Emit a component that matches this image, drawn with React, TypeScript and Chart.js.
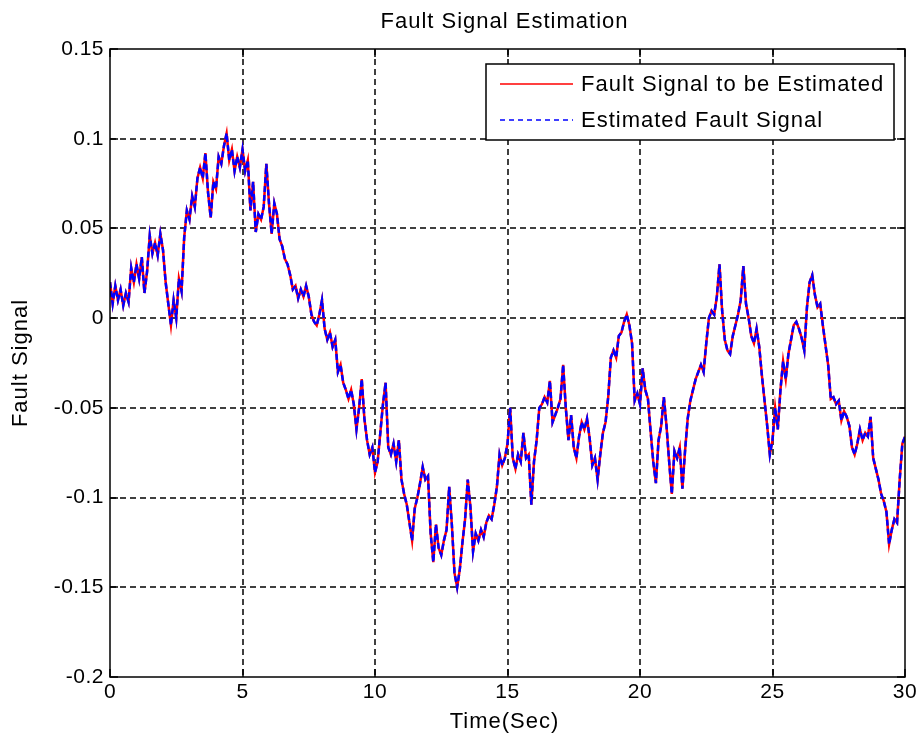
import { useEffect, useRef } from "react";
import { Chart, registerables } from "chart.js";

Chart.register(...registerables);

const chartTitle = "Fault Signal Estimation";
const xAxisTitle = "Time(Sec)";
const yAxisTitle = "Fault Signal";
const legendLabels = ["Fault Signal to be Estimated", "Estimated Fault Signal"];

const sampleStep = 0.1; // seconds between samples
const xTickValues = [0, 5, 10, 15, 20, 25, 30];
const yTickValues = [-0.2, -0.15, -0.1, -0.05, 0, 0.05, 0.1, 0.15];
const yTickLabels = ["-0.2", "-0.15", "-0.1", "-0.05", "0", "0.05", "0.1", "0.15"];

// Fault signal, one value every 0.1 s from 0 to 30 s
const faultSignal = [
  0.020, 0.008, 0.018, 0.010, 0.016, 0.007, 0.014, 0.009, 0.028, 0.020,
  0.030, 0.022, 0.034, 0.014, 0.026, 0.046, 0.036, 0.042, 0.035, 0.047,
  0.038, 0.020, 0.008, -0.004, 0.010, 0.000, 0.022, 0.015, 0.045, 0.060,
  0.055, 0.068, 0.062, 0.078, 0.084, 0.078, 0.092, 0.070, 0.056, 0.076,
  0.072, 0.090, 0.086, 0.096, 0.103, 0.088, 0.094, 0.082, 0.090, 0.084,
  0.094, 0.082, 0.088, 0.060, 0.076, 0.048, 0.058, 0.055, 0.062, 0.086,
  0.064, 0.047, 0.064, 0.058, 0.044, 0.040, 0.033, 0.030, 0.024, 0.016,
  0.018, 0.011, 0.016, 0.012, 0.018, 0.012, 0.002, -0.002, -0.004, 0.002,
  0.010, -0.006, -0.012, -0.008, -0.016, -0.012, -0.030, -0.026, -0.036, -0.040,
  -0.045, -0.040, -0.048, -0.062, -0.050, -0.034, -0.056, -0.068, -0.076, -0.072,
  -0.086, -0.080, -0.064, -0.048, -0.036, -0.072, -0.076, -0.070, -0.080, -0.068,
  -0.090, -0.098, -0.104, -0.114, -0.124, -0.106, -0.100, -0.092, -0.083, -0.090,
  -0.088, -0.120, -0.136, -0.115, -0.128, -0.132, -0.124, -0.118, -0.094, -0.115,
  -0.142, -0.150, -0.140, -0.125, -0.112, -0.090, -0.105, -0.130, -0.120, -0.124,
  -0.118, -0.122, -0.114, -0.110, -0.112, -0.104, -0.094, -0.076, -0.082, -0.078,
  -0.070, -0.050, -0.078, -0.084, -0.076, -0.080, -0.064, -0.078, -0.076, -0.104,
  -0.080, -0.068, -0.050, -0.048, -0.044, -0.047, -0.035, -0.058, -0.054, -0.050,
  -0.045, -0.026, -0.050, -0.068, -0.054, -0.072, -0.078, -0.066, -0.058, -0.062,
  -0.056, -0.067, -0.082, -0.078, -0.090, -0.076, -0.064, -0.058, -0.044, -0.022,
  -0.018, -0.022, -0.010, -0.008, -0.002, 0.002, -0.004, -0.014, -0.046, -0.042,
  -0.048, -0.028, -0.040, -0.045, -0.063, -0.080, -0.092, -0.068, -0.060, -0.044,
  -0.060, -0.080, -0.098, -0.074, -0.078, -0.072, -0.095, -0.074, -0.056, -0.046,
  -0.040, -0.034, -0.030, -0.026, -0.030, -0.014, 0.000, 0.004, 0.002, 0.012,
  0.030, 0.004, -0.012, -0.018, -0.020, -0.010, -0.004, 0.002, 0.010, 0.029,
  0.008, 0.000, -0.010, -0.014, -0.006, -0.016, -0.032, -0.046, -0.060, -0.076,
  -0.068, -0.050, -0.062, -0.040, -0.024, -0.034, -0.020, -0.012, -0.004, -0.002,
  -0.006, -0.011, -0.018, 0.006, 0.020, 0.024, 0.013, 0.006, 0.008, -0.004,
  -0.015, -0.026, -0.045, -0.044, -0.048, -0.046, -0.057, -0.052, -0.055, -0.060,
  -0.072, -0.076, -0.070, -0.062, -0.068, -0.064, -0.066, -0.055, -0.078, -0.084,
  -0.090, -0.098, -0.102, -0.108, -0.126, -0.118, -0.112, -0.114, -0.090, -0.070,
  -0.066,
];

// The estimate follows the fault signal so closely that the two traces coincide
const estimatedFaultSignal = faultSignal.slice();

const FONT = "'Liberation Sans', Arial, Helvetica, sans-serif";

const matlabPlugin = {
  id: "matlabLook",
  beforeDraw(chart: any) {
    chart.ctx.letterSpacing = "0.5px";
  },
  beforeDatasetsDraw(chart: any) {
    const { ctx, chartArea: a, scales } = chart;
    const xs = scales.x;
    const ys = scales.y;
    ctx.save();
    ctx.strokeStyle = "#000";
    ctx.lineWidth = 1.5;
    ctx.setLineDash([6, 4]);
    xs.ticks.forEach((t: any) => {
      const px = Math.round(xs.getPixelForValue(t.value));
      if (px <= a.left + 1 || px >= a.right - 1) return;
      ctx.beginPath();
      ctx.moveTo(px, a.top);
      ctx.lineTo(px, a.bottom);
      ctx.stroke();
    });
    ys.ticks.forEach((t: any) => {
      const py = Math.round(ys.getPixelForValue(t.value));
      if (py <= a.top + 1 || py >= a.bottom - 1) return;
      ctx.beginPath();
      ctx.moveTo(a.left, py);
      ctx.lineTo(a.right, py);
      ctx.stroke();
    });
    ctx.restore();
  },
  afterDatasetsDraw(chart: any) {
    const { ctx, chartArea: a, scales } = chart;
    const xs = scales.x;
    const ys = scales.y;
    const tl = 8;
    ctx.save();
    ctx.setLineDash([]);
    ctx.strokeStyle = "#000";
    ctx.lineWidth = 1.5;
    ctx.strokeRect(a.left, a.top, a.right - a.left, a.bottom - a.top);
    ctx.beginPath();
    xs.ticks.forEach((t: any) => {
      const px = Math.round(xs.getPixelForValue(t.value));
      ctx.moveTo(px, a.bottom);
      ctx.lineTo(px, a.bottom - tl);
      ctx.moveTo(px, a.top);
      ctx.lineTo(px, a.top + tl);
    });
    ys.ticks.forEach((t: any) => {
      const py = Math.round(ys.getPixelForValue(t.value));
      ctx.moveTo(a.left, py);
      ctx.lineTo(a.left + tl, py);
      ctx.moveTo(a.right, py);
      ctx.lineTo(a.right - tl, py);
    });
    ctx.stroke();
    ctx.restore();
  },
  afterDraw(chart: any) {
    const { ctx, chartArea: a } = chart;
    const cx = (a.left + a.right) / 2;
    ctx.save();
    ctx.fillStyle = "#000";
    ctx.letterSpacing = "1px";
    ctx.font = `22px ${FONT}`;
    ctx.textAlign = "center";
    ctx.textBaseline = "middle";
    ctx.fillText(chartTitle, cx - 3, 22);
    ctx.fillText(xAxisTitle, cx - 3, 722);
    ctx.save();
    ctx.translate(21, (a.top + a.bottom) / 2);
    ctx.rotate(-Math.PI / 2);
    ctx.fillText(yAxisTitle, 0, 0);
    ctx.restore();

    // legend box inside the axes (north-east)
    const bx = 486, by = 64, bw = 408, bh = 76;
    ctx.fillStyle = "#fff";
    ctx.fillRect(bx, by, bw, bh);
    ctx.strokeStyle = "#000";
    ctx.lineWidth = 1.5;
    ctx.setLineDash([]);
    ctx.strokeRect(bx, by, bw, bh);
    const rows = [
      { y: by + 20, color: "#ff0000", dash: [] as number[] },
      { y: by + 56, color: "#0000ff", dash: [5, 4] },
    ];
    rows.forEach((r, i) => {
      ctx.strokeStyle = r.color;
      ctx.lineWidth = 1.5;
      ctx.setLineDash(r.dash);
      ctx.beginPath();
      ctx.moveTo(bx + 14, r.y);
      ctx.lineTo(bx + 87, r.y);
      ctx.stroke();
      ctx.setLineDash([]);
      ctx.fillStyle = "#000";
      ctx.textAlign = "left";
      ctx.textBaseline = "middle";
      ctx.fillText(legendLabels[i], bx + 95, r.y + 1);
    });
    ctx.restore();
  },
};

export default function App() {
  const canvasRef = useRef<HTMLCanvasElement | null>(null);

  useEffect(() => {
    const canvas = canvasRef.current;
    if (!canvas) return;
    const times = faultSignal.map((_, i) => Math.round(i * sampleStep * 10) / 10);
    const chart = new Chart(canvas, {
      type: "line",
      data: {
        datasets: [
          {
            label: legendLabels[1],
            data: times.map((t, i) => ({ x: t, y: estimatedFaultSignal[i] })),
            borderColor: "#0000ff",
            borderWidth: 2.5,
            borderDash: [6, 3],
            pointRadius: 0,
            fill: false,
            tension: 0,
            order: 0,
          },
          {
            label: legendLabels[0],
            data: times.map((t, i) => ({ x: t, y: faultSignal[i] })),
            borderColor: "#ff0000",
            borderWidth: 2.5,
            pointRadius: 0,
            fill: false,
            tension: 0,
            order: 1,
          },
        ],
      },
      options: {
        animation: false,
        responsive: false,
        maintainAspectRatio: false,
        devicePixelRatio: 1,
        layout: { padding: { left: 0, right: 15, top: 49, bottom: 0 } },
        plugins: {
          legend: { display: false },
          title: { display: false },
          tooltip: { enabled: false },
        },
        scales: {
          x: {
            type: "linear",
            min: 0,
            max: 30,
            afterBuildTicks: (s: any) => {
              s.ticks = xTickValues.map((v) => ({ value: v }));
            },
            afterFit: (s: any) => {
              s.height = 65;
            },
            grid: { display: false, drawTicks: false },
            border: { display: false },
            ticks: {
              color: "#000",
              font: { family: FONT, size: 21 },
              padding: 3,
              maxRotation: 0,
              autoSkip: false,
              callback: (v: any) => String(v),
            },
          },
          y: {
            type: "linear",
            min: -0.2,
            max: 0.15,
            afterBuildTicks: (s: any) => {
              s.ticks = yTickValues.map((v) => ({ value: v }));
            },
            afterFit: (s: any) => {
              s.width = 110;
            },
            grid: { display: false, drawTicks: false },
            border: { display: false },
            ticks: {
              color: "#000",
              font: { family: FONT, size: 21 },
              padding: 6,
              autoSkip: false,
              callback: (v: any) => {
                const idx = yTickValues.findIndex((t) => Math.abs(t - v) < 1e-9);
                return idx >= 0 ? yTickLabels[idx] : "";
              },
            },
          },
        },
      },
      plugins: [matlabPlugin],
    } as any);
    return () => chart.destroy();
  }, []);

  return (
    <div style={{ position: "fixed", left: 0, top: 0, width: 920, height: 742, background: "#fff" }}>
      <canvas ref={canvasRef} width={920} height={742} style={{ display: "block", width: 920, height: 742 }} />
    </div>
  );
}
